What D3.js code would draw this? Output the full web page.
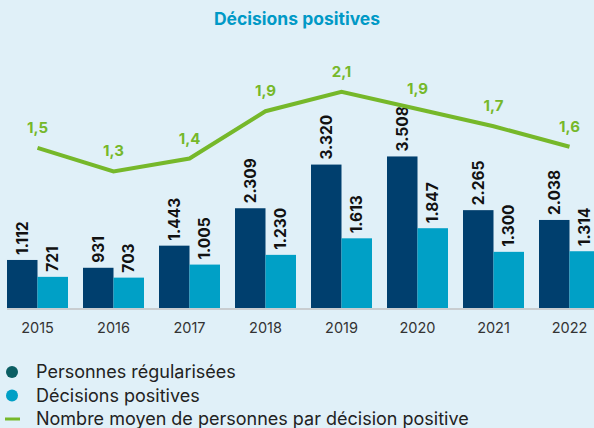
<!DOCTYPE html>
<html>
<head>
<meta charset="utf-8">
<script src="https://cdn.jsdelivr.net/npm/d3@7"></script>
<style>
  html, body { margin: 0; padding: 0; background: #e0f0f8; }
  svg { display: block; font-family: Inter, "Open Sans", sans-serif; }
</style>
</head>
<body>
<div id="chart"></div>
<script>
const years = ['2015', '2016', '2017', '2018', '2019', '2020', '2021', '2022'];
const personnes = [1112, 931, 1443, 2309, 3320, 3508, 2265, 2038];
const decisions = [721, 703, 1005, 1230, 1613, 1847, 1300, 1314];
const moyenne = [1.54, 1.32, 1.44, 1.88, 2.06, 1.90, 1.74, 1.55];
const moyenneLabels = ['1,5', '1,3', '1,4', '1,9', '2,1', '1,9', '1,7', '1,6'];
const legendItems = ['Personnes régularisées', 'Décisions positives', 'Nombre moyen de personnes par décision positive'];

const width = 594, height = 428;
const baseline = 308;
const darkBlue = '#003f6e', lightBlue = '#00a0c6', green = '#76b82a';

const fmt = d => d3.format(',')(d).replace(/,/g, '.');

const svg = d3.select('#chart').append('svg')
  .attr('width', width)
  .attr('height', height);

svg.append('rect').attr('width', width).attr('height', height).attr('fill', '#e0f0f8');

svg.append('text')
  .attr('x', width / 2)
  .attr('y', 25)
  .attr('text-anchor', 'middle')
  .attr('font-size', 17.5)
  .attr('font-weight', 700)
  .attr('fill', '#0099c6')
  .text('Décisions positives');

const x0 = d3.scaleBand()
  .domain(years)
  .range([-0.5, 607.5])
  .paddingInner(15 / 76)
  .paddingOuter(7.5 / 76);

const x1 = d3.scaleBand()
  .domain(['personnes', 'decisions'])
  .range([0, x0.bandwidth()]);

const y = d3.scaleLinear()
  .domain([0, 4000])
  .range([baseline, baseline - 172.8]);

const yLine = d3.scaleLinear()
  .domain([0, 2])
  .range([313.5, 98.3]);

const rows = years.map((yr, i) => ({ year: yr, personnes: personnes[i], decisions: decisions[i] }));

// axis line
svg.append('line')
  .attr('x1', 7).attr('x2', width)
  .attr('y1', baseline + 1).attr('y2', baseline + 1)
  .attr('stroke', '#c9cdd0')
  .attr('stroke-width', 2);

const groups = svg.append('g')
  .selectAll('g')
  .data(rows)
  .enter().append('g')
  .attr('transform', d => 'translate(' + x0(d.year) + ',0)');

const bars = groups.selectAll('g')
  .data(d => [
    { key: 'personnes', value: d.personnes, color: darkBlue },
    { key: 'decisions', value: d.decisions, color: lightBlue }
  ])
  .enter().append('g');

bars.append('rect')
  .attr('x', d => x1(d.key))
  .attr('y', d => y(d.value))
  .attr('width', x1.bandwidth())
  .attr('height', d => baseline - y(d.value))
  .attr('fill', d => d.color);

bars.append('text')
  .attr('transform', d => 'translate(' + (x1(d.key) + x1.bandwidth() / 2) + ',' + (y(d.value) - 5) + ') rotate(-90)')
  .attr('dy', '0.36em')
  .attr('text-anchor', 'start')
  .attr('font-size', 15.5)
  .attr('font-weight', 700)
  .attr('fill', '#111')
  .text(d => fmt(d.value));

// x axis labels
svg.append('g')
  .selectAll('text')
  .data(years)
  .enter().append('text')
  .attr('x', d => x0(d) + x0.bandwidth() / 2)
  .attr('y', 332.5)
  .attr('text-anchor', 'middle')
  .attr('font-size', 14.5)
  .attr('fill', '#333')
  .text(d => d);

// line
const line = d3.line()
  .x((d, i) => x0(years[i]) + x0.bandwidth() / 2)
  .y(d => yLine(d));

svg.append('path')
  .datum(moyenne)
  .attr('d', line)
  .attr('fill', 'none')
  .attr('stroke', green)
  .attr('stroke-width', 4)
  .attr('stroke-linejoin', 'miter');

svg.append('g')
  .selectAll('text')
  .data(moyenne)
  .enter().append('text')
  .attr('x', (d, i) => x0(years[i]) + x0.bandwidth() / 2)
  .attr('y', d => yLine(d) - 15)
  .attr('text-anchor', 'middle')
  .attr('font-size', 15)
  .attr('font-weight', 700)
  .attr('fill', green)
  .text((d, i) => moyenneLabels[i]);

// legend
const legend = svg.append('g')
  .selectAll('g')
  .data(legendItems)
  .enter().append('g')
  .attr('transform', (d, i) => 'translate(0,' + (372 + i * 23.5) + ')');

legend.filter((d, i) => i < 2).append('circle')
  .attr('cx', 12)
  .attr('cy', 0)
  .attr('r', 6)
  .attr('fill', (d, i) => i === 0 ? '#0b5e63' : lightBlue);

legend.filter((d, i) => i === 2).append('line')
  .attr('x1', 5).attr('x2', 20)
  .attr('y1', 0).attr('y2', 0)
  .attr('stroke', green)
  .attr('stroke-width', 3);

legend.append('text')
  .attr('x', 36)
  .attr('y', 0)
  .attr('dy', '0.35em')
  .attr('font-size', 18)
  .attr('fill', '#222')
  .text(d => d);
</script>
</body>
</html>
